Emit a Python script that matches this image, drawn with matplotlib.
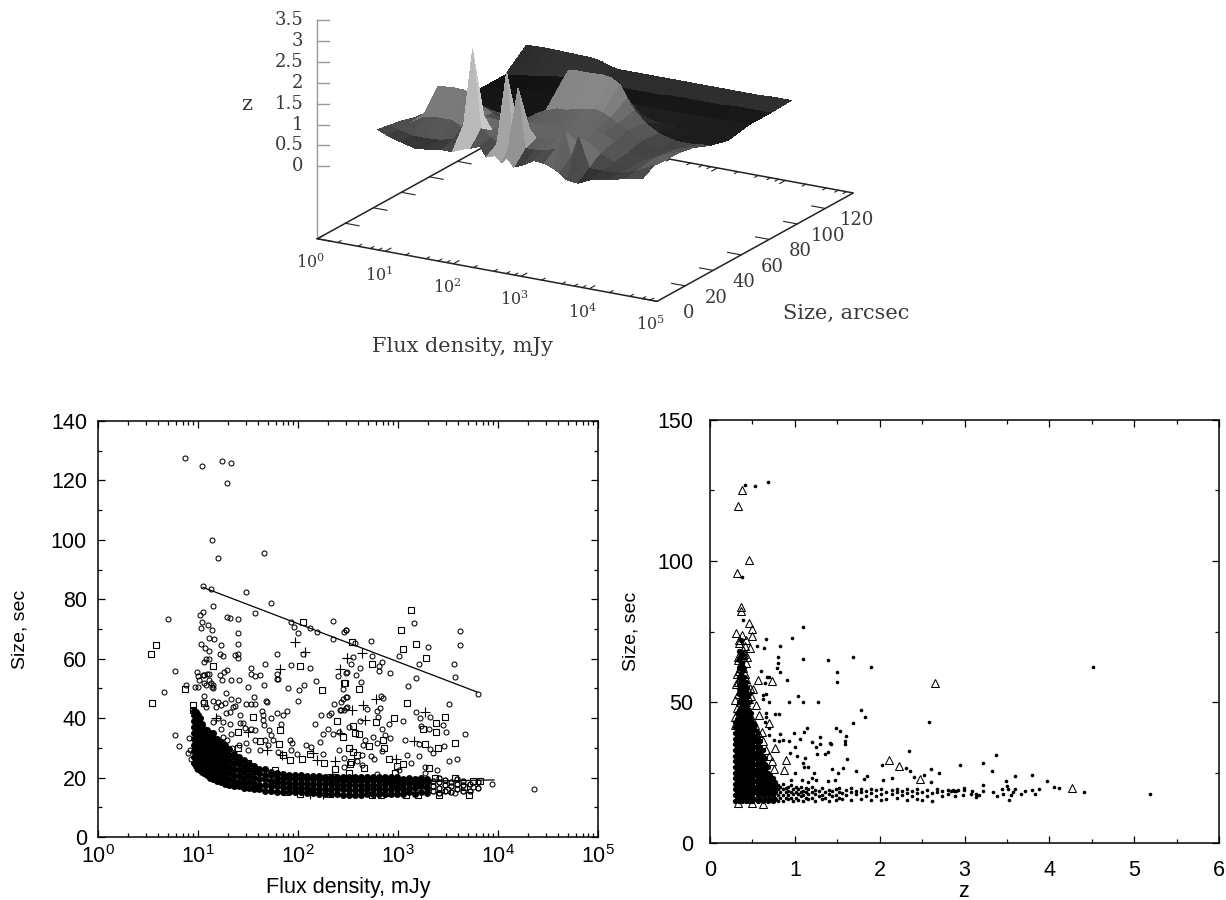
import numpy as np
import matplotlib
matplotlib.use("Agg")
import matplotlib.pyplot as plt
from mpl_toolkits.mplot3d import proj3d

W, H = 1226, 900
SANS = "Liberation Sans"
SERIF = "DejaVu Serif"
plt.rcParams["font.family"] = SANS

###############################################################
# top panel: z(log flux, size)
###############################################################
surf_logflux = [.6, .75, .95, 1.15, 1.35, 1.55, 1.7, 1.83, 1.95, 2.1, 2.2, 2.33, 2.42, 2.5, 2.6, 2.75,
                2.9, 3.05, 3.18, 3.28, 3.39, 3.55, 3.75, 4.0, 4.25, 4.5]
surf_size = [14, 22, 30, 40, 50, 62, 75, 90, 105, 120]
surf_z = [
    [.80, .70, .60, .52, .55, .60, .60, .70, .75, .85, .62, .70, .55, .70, .50, .60, .75, .72, .65, .55, .42, .40, .55, .62, .72, .80],
    [.75, .68, .60, .60, .62, .70, 1.1, 2.94, 1.1, .90, .80, 2.54, .90, 2.22, .80, .80, .85, .90, 1.4, .80, 1.3, .60, .60, .62, .75, .96],
    [.70, .70, .90, .95, .95, .80, .80, 1.2, .90, .90, .85, 1.1, .90, 1.1, .90, .90, .95, 1.0, 1.0, 1.0, 1.0, .80, .65, .60, .80, .94],
    [.60, .75, 1.45, 1.5, 1.48, .85, .80, .90, .85, .95, 1.0, 1.0, 1.0, 1.0, 1.0, 1.05, 1.1, 1.15, 1.15, 1.1, 1.05, .90, .70, .60, .80, .94],
    [.50, .60, 1.0, 1.0, .95, .80, .70, .70, .70, .80, 1.0, 1.1, 1.15, 1.2, 1.2, 1.25, 1.3, 1.35, 1.3, 1.2, 1.1, 1.0, .80, .65, .75, .87],
    [.45, .50, .55, .55, .55, .55, .50, .50, .55, .60, .90, 1.6, 1.88, 1.9, 1.9, 1.9, 1.92, 1.88, 1.75, 1.45, 1.2, .95, .75, .65, .65, .70],
    [.42, .45, .45, .45, .45, .45, .45, .50, .50, .50, .60, .70, .72, .72, .72, .72, .72, .72, .72, .70, .70, .70, .68, .65, .62, .58],
    [.42, .45, .45, .48, .50, .50, .50, .55, .55, .55, .60, .62, .62, .62, .62, .65, .65, .65, .65, .65, .65, .65, .65, .65, .68, .68],
    [.42, .45, .50, .55, .60, .62, .65, .65, .62, .60, .62, .62, .62, .62, .62, .62, .62, .65, .65, .65, .65, .65, .65, .68, .68, .68],
    [.85, .87, .87, .86, .85, .84, .80, .72, .68, .68, .68, .68, .68, .68, .68, .68, .68, .68, .68, .68, .68, .68, .68, .68, .70, .70],
]
row_gray = [85, 100, 100, 90, 90, 40, 40, 32, 62, 62]

z_ticks = [0, .5, 1, 1.5, 2, 2.5, 3, 3.5]
z_ticklabels = ["0", "0.5", "1", "1.5", "2", "2.5", "3", "3.5"]
flux_decades = [0, 1, 2, 3, 4, 5]
flux_minor = [.3, .6, .78, .9]
size_ticks = [0, 20, 40, 60, 80, 100, 120]

###############################################################
# left panel (log10 flux, size)
###############################################################
circles = [
    (.87, 127.4), (1.04, 124.8), (1.24, 126.4), (1.33, 126), (1.29, 119), (1.14, 99.8), (1.2, 93.9), (1.66, 95.6),
    (1.05, 84.4), (1.13, 83.6), (1.48, 82.3), (1.73, 78.6), (1.15, 77.6), (.7, 73.3), (1.02, 74.6), (1.05, 75.6),
    (1.57, 75.4), (1.29, 74.1), (1.32, 73.6), (1.4, 73.4), (1.04, 72.4), (1.03, 70.4), (1.1, 71.2), (1.14, 69.8),
    (1.4, 68.8), (1.93, 72.2), (1.96, 70.6), (2.12, 70.3), (2, 68.5), (2.19, 69.1), (2.35, 72.8), (2.48, 69.6),
    (2.46, 69), (2.35, 66.8), (1.11, 67.1), (1.16, 66.7), (1.03, 64.8), (1.23, 64.6), (1.4, 64.9), (1.07, 63.6),
    (1.11, 62.6), (1.22, 61.7), (1.25, 60.9), (1.37, 61.2), (1.4, 61.7), (1.4, 60.3), (1.79, 61.7), (2.05, 61.5),
    (1.08, 60), (1.11, 60), (1.06, 58.9), (1.67, 58.1), (1.93, 57.8), (2.12, 57), (.77, 55.8), (.66, 48.7), (.88, 51),
    (.97, 50.6), (1, 50.5), (.99, 55.6), (1.0, 54.1), (1.01, 53), (1.05, 54.6), (1.06, 54.5), (1.09, 54.8), (1.11, 55),
    (1.06, 51.7), (1.08, 51.1), (1.11, 52.8), (1.13, 51.7), (1.14, 50.5), (1.15, 51.1), (1.15, 50), (1.06, 47.5),
    (1.05, 45.5), (1.08, 43.8), (1.15, 45.8), (1.2, 45.5), (1.27, 45.2), (1.33, 46.3), (1.4, 46), (1.48, 44.9),
    (1.53, 44.7), (1.57, 44.6), (1.56, 47), (1.68, 45.7), (1.69, 45.5), (1.28, 48.6), (1.22, 54.5), (1.26, 55.4),
    (1.29, 56.2), (1.24, 53), (1.33, 52.8), (1.41, 52.8), (1.5, 50.5), (1.53, 57), (1.53, 55), (1.57, 54.1),
    (1.62, 54.5), (1.66, 51.1), (1.79, 55), (1.79, 53.3), (1.8, 53.1), (1.9, 50.2), (2.01, 49.4), (2, 45.9),
    (2.06, 51.1), (2.18, 52.4), (2.4, 54.1), (2.49, 55.4), (1.79, 41.6), (1.89, 42.5), (1.85, 41.2), (1.64, 42.5),
    (1.65, 41), (1.73, 39.9), (1.42, 40.9), (1.35, 43.8), (1.37, 44.1), (1.32, 42.1), (1.28, 41.6), (1.23, 44.4),
    (1.18, 43.8), (1.15, 38.8), (1.2, 40.1), (1.25, 38.8), (1.32, 38), (1.23, 36.5), (1.33, 34.8), (1.42, 38.2),
    (1.45, 38.4), (1.47, 36.8), (1.53, 36.5), (1.57, 36), (1.65, 39.3), (1.66, 37.6), (1.71, 36), (1.83, 38),
    (1.73, 34.3), (1.75, 32.6), (1.67, 32.8), (1.57, 32.6), (1.48, 31.5), (1.41, 30.9), (1.34, 29.8), (1.29, 32.6),
    (1.25, 33.7), (1.5, 29.2), (1.62, 29.2), (1.7, 30.9), (1.8, 28.7), (1.92, 32.6), (1.94, 31.7), (1.93, 29.2),
    (2.08, 30.9), (2.13, 30.3), (1.99, 27.8), (2.22, 32), (2.25, 34.8), (2.3, 36.5), (2.33, 41.8), (2.31, 41),
    (2.23, 41), (2.17, 37.9), (2.36, 44.9), (2.43, 45.5), (2.49, 47.2), (2.46, 42.7), (2.42, 42.7), (2.49, 43.6),
    (2.35, 34.8), (2.41, 35.4), (2.51, 37), (2.41, 29.2), (2.25, 28.1), (.77, 34.3), (.81, 30.7), (.91, 33.4),
    (.9, 28.3), (.92, 29.2), (.93, 26.1), (.97, 24.7), (.99, 23),
    (2.48, 69.6), (3.16, 71.9), (3.62, 69.2), (3.62, 64.6), (3.3, 63.8), (2.73, 65.9), (2.57, 65.4), (3.01, 60.9),
    (3.21, 58.2), (3.56, 58.1), (3.57, 53.7), (3.18, 53.4), (3.1, 50.8), (3.8, 48.1), (3.51, 44.8), (3.18, 41.9),
    (2.55, 60.7), (2.74, 60.8), (2.84, 59), (2.81, 57.7), (2.81, 56), (2.92, 55.2), (2.53, 58.2), (2.62, 57),
    (2.48, 55.3), (2.58, 54.5), (2.63, 52.2), (2.45, 49.9), (2.48, 47.2), (2.45, 46.4), (2.83, 47.4), (2.85, 46.7),
    (2.79, 42.5), (2.82, 43.4), (2.69, 43), (2.48, 43.5), (2.43, 42.7), (2.8, 40.5), (2.91, 37.9), (3.05, 38.9),
    (2.62, 38.9), (2.87, 34.3), (2.84, 36.4), (2.75, 33.7), (2.67, 32.6), (2.92, 33.2), (2.65, 30.9), (2.79, 31.8),
    (2.84, 28.8), (2.73, 27.3), (2.64, 27.6), (2.76, 26.1), (2.46, 26.7), (2.59, 25.7), (2.64, 24.2), (2.46, 23.6),
    (2.79, 21.2), (3.01, 22.5), (3.22, 40.1), (3.32, 40.5), (3.45, 37.7), (3.48, 35.2), (3.67, 34.5), (3.23, 37.3),
    (3.31, 36.3), (3.07, 32.7), (3.21, 31.4), (3.32, 29.7), (3.46, 30.5), (3.35, 28.2), (3.21, 27.1), (3.09, 27.7),
    (3.51, 25.7), (3.59, 26.2), (3.13, 24.9), (3.39, 22.7), (3.27, 23.4), (3.27, 21.4), (3.94, 17.8), (4.36, 16.1),
    (3.57, 14.7), (3.75, 16.9),
]
squares = [
    (.58, 64.5), (.53, 61.5), (.54, 45.2), (.87, 49.8), (1.06, 45.2), (1.15, 57.4), (2.05, 72.2), (2.02, 57.5),
    (2.24, 49.6), (2.47, 51.9), (1.55, 40.3), (2.39, 39.1), (1.82, 36), (1.4, 35.4), (1.62, 32.3), (1.81, 31.2),
    (1.4, 30), (2.51, 29.8), (2.45, 33.5), (1.85, 27.5), (1.92, 25.9), (2.12, 27.8), (2.04, 26.4), (2.26, 25),
    (1.77, 22.5), (1.5, 25), (2.37, 23), (2.52, 24.7), (.95, 42.7), (.95, 44.4), (1.87, 15.2), (2.02, 14.6),
    (2.32, 14.4), (1.08, 21.4), (3.13, 76.4), (3.03, 69.5), (3.18, 64.9), (3.05, 63.4), (3.28, 60.1), (2.54, 65.5),
    (2.74, 58.2), (2.46, 51.9), (2.61, 49.9), (3.09, 45.2), (2.96, 40.2), (2.78, 38.8), (3.47, 40.4), (3.38, 38.2),
    (3.38, 35.3), (3.25, 36.3), (3.27, 31.2), (3.4, 30.1), (3.57, 31.7), (2.85, 32.6), (2.86, 29.8), (2.71, 30.5),
    (2.57, 34.9), (2.61, 34.7), (2.55, 37.4), (2.51, 30), (2.55, 28.6), (2.59, 27.6), (2.91, 26.4), (2.99, 24),
    (3.05, 24.4), (2.53, 25.1), (2.66, 23.1), (2.51, 21.6), (2.97, 21.4), (3.31, 23.1), (3.57, 20), (3.75, 19),
    (3.82, 18.7), (3.71, 14), (3.2, 14), (2.74, 14), (2.83, 14.2), (3.08, 14.2), (3.41, 14.2), (3.66, 16.9),
    (3.49, 15.8), (3.37, 19.7), (3.19, 19.1), (2.89, 14.7), (2.99, 18), (2.62, 14.7),
]
pluses = [
    (1.97, 65.6), (2.07, 62.2), (2.49, 60.3), (2.42, 56.7), (1.82, 56.5), (1.69, 29.4), (1.84, 27.7), (2.15, 28.4),
    (2.19, 26), (2.37, 25.6), (2.34, 21.1), (2.12, 14.4), (2.25, 14.6), (1.18, 39.9), (1.5, 35.4), (2.49, 60.2),
    (2.64, 61.9), (2.78, 46.6), (2.65, 44.4), (2.54, 42.6), (2.67, 39.3), (3.27, 42.1), (3.16, 32.3), (2.98, 26.2),
    (2.42, 34.9),
]
# the black band: sizes read column by column
band_logflux = [.96, .98, 1.0, 1.02, 1.04, 1.06, 1.09, 1.12, 1.15, 1.19, 1.23, 1.27, 1.31, 1.36, 1.41, 1.46, 1.51,
                1.56, 1.61, 1.67, 1.73, 1.79, 1.85, 1.91, 1.97, 2.03, 2.09, 2.15, 2.21, 2.27, 2.33, 2.39, 2.45,
                2.51, 2.57, 2.63, 2.69, 2.75, 2.81, 2.87, 2.93, 2.99, 3.05, 3.11, 3.17, 3.23, 3.29, 3.35, 3.41,
                3.47, 3.53, 3.59, 3.65, 3.72, 3.8]
band_sizes = [
    [25, 27, 29, 31, 33, 35, 37, 39, 41, 42.5], [24, 26, 28, 30, 32, 34, 36, 38, 40, 42], [23, 25, 27, 29, 31, 33, 35, 37, 39, 41],
    [22.5, 24.5, 26.5, 28.5, 30.5, 32.5, 34.5, 36.5, 38.5, 40], [22, 24, 26, 28, 30, 32, 34, 36, 38], [21.5, 23.5, 25.5, 27.5, 29.5, 31.5, 33.5, 35.5, 36.5],
    [21, 23, 25, 27, 29, 31, 33, 35, 36], [20, 22, 24, 26, 28, 30, 32, 34, 35], [19.5, 21.5, 23.5, 25.5, 27.5, 29.5, 31.5, 33.5, 35],
    [19, 21, 23, 25, 27, 29, 31, 33], [18.5, 20.5, 22.5, 24.5, 26.5, 28.5, 30.5, 32], [18, 20, 22, 24, 26, 28, 30, 31],
    [17.5, 19.5, 21.5, 23.5, 25.5, 27.5, 29.5], [17, 19, 21, 23, 25, 27, 28], [17, 18.5, 20.5, 22.5, 24.5, 26, 27], [16.5, 18, 20, 22, 24, 26],
    [16.5, 18.5, 20.5, 22.5, 24.5], [16, 18, 20, 22, 24], [16, 17.5, 19.5, 21.5, 23], [15.5, 17.5, 19.5, 21, 23], [15.5, 17, 19, 21, 22],
    [15.3, 17, 18.5, 20, 21.5], [15.2, 16.8, 18.4, 20, 21.3], [15.2, 16.7, 18.3, 19.8, 21], [15, 16.5, 18, 19.5, 21], [15, 16.6, 18.2, 19.7, 20.8],
    [14.8, 16.4, 18, 19.6, 20.6], [14.7, 16.3, 17.9, 19.5, 20.5], [14.6, 16.2, 17.8, 19.4, 20.5], [14.6, 16.2, 17.8, 19.4, 20.3], [14.5, 16.1, 17.7, 19.3, 20.3],
    [14.4, 16, 17.6, 19.2, 20.3], [14.3, 16, 17.6, 19.2, 20.2], [14.3, 15.9, 17.5, 19.1, 20.2], [14.3, 15.9, 17.5, 19.1, 20.2], [14.3, 15.9, 17.5, 19.1, 20.2],
    [14.4, 16, 17.6, 19.2, 20.2], [14.4, 16, 17.6, 19.2, 20.2], [14.5, 16, 17.6, 19.2, 20.2], [14.5, 16.1, 17.7, 19.3, 20.2], [14.5, 16.1, 17.7, 19.3, 20.2],
    [14.5, 16, 17.6, 19.2, 20.2], [14.6, 16.2, 17.8, 19.4], [15, 16.6, 18.2, 19.8], [14.5, 16.4, 18, 19.6], [15, 17, 18.6, 20], [14.8, 16.6, 18.2, 19.6],
    [15.5, 17.2, 18.8], [14.8, 16.5, 18.4, 19.8], [15.5, 17.5, 19.2], [15, 17, 18.5], [16, 18, 19.5], [15.5, 17.5, 18.8], [15.5, 17.8], [16.5, 18.4],
]
line_top_logflux = [1.05, 3.79]
line_top_size = [84, 48.8]
line_low_logflux = [1.7, 3.96]
line_low_size = [17.8, 19.2]

###############################################################
# right panel (z, size)
###############################################################
triangles = [
    (.38, 125.2), (.334, 119.5), (.456, 100.2), (.318, 95.9), (.362, 83.8), (.37, 82.4), (.456, 77.9), (.5, 75.8),
    (.307, 74.4), (.49, 73.5), (.38, 73.8), (.43, 72), (.346, 70.8), (.47, 69), (.39, 68.5), (.39, 66.7), (.43, 63.7),
    (.335, 65), (.35, 62), (.39, 62), (.354, 59), (.57, 57.8), (.735, 57.6), (.307, 56.4), (.37, 55.5), (.51, 54.5),
    (.295, 50.7), (.54, 49), (.58, 45.5), (.295, 44.8), (.70, 42.6), (.61, 39.5), (.77, 33.6), (.89, 29.4), (.73, 29.2),
    (.755, 26.2), (.877, 25.9), (2.11, 29.4), (2.225, 27.3), (2.476, 22.7), (2.657, 56.6), (.63, 14), (.33, 14.3),
    (.49, 14.3), (4.27, 19.5), (.33, 66), (.36, 67), (.41, 70), (.32, 60), (.36, 56), (.42, 58), (.33, 53), (.38, 52),
    (.44, 55), (.48, 52), (.32, 48), (.4, 49), (.36, 47), (.45, 47), (.3, 42), (.5, 44),
    (.34, 72), (.4, 67), (.44, 66), (.37, 64), (.34, 61), (.41, 60), (.37, 58), (.33, 57), (.4, 55), (.35, 54), (.42, 53),
    (.46, 51), (.35, 50), (.42, 50), (.38, 48), (.47, 55), (.34, 45), (.42, 45), (.37, 43), (.47, 41), (.53, 42), (.56, 39),
    (.62, 36), (.66, 33), (.7, 31),
]
dots = [
    (.417, 127), (.535, 126.7), (.688, 128), (.38, 94.4), (.393, 79), (1.10, 76.7), (.963, 72.6), (.66, 72.2), (.825, 69.9),
    (.558, 70), (.633, 69.1), (.806, 65.8), (1.093, 65.2), (1.39, 65), (1.69, 66), (1.9, 62.3), (.8, 63.7), (.79, 62),
    (.82, 60.5), (1.5, 60.5), (.6, 61), (.91, 57.8), (1.5, 57), (.67, 59), (.7, 58.8), (.65, 56.6), (.62, 52.5), (.66, 53),
    (.63, 51), (.69, 50), (.935, 50), (1.04, 52.2), (1.1, 50), (1.27, 50), (1.777, 47), (1.83, 44.6), (1.68, 42.4),
    (2.586, 42.9), (.77, 45.6), (.81, 45.6), (.66, 46.2), (.66, 44.6), (.65, 43), (.7, 40.7), (.7, 38.3), (.82, 38.5),
    (1.148, 40.7), (1.11, 39.5), (.995, 39), (1.48, 40.7), (1.537, 39.8), (1.6, 38), (1.06, 36.9), (.93, 36.3), (.81, 36),
    (.86, 36.5), (.75, 36.5), (1.2, 35.7), (1.3, 37.7), (1.3, 35), (1.25, 34), (1.42, 35.6), (1.43, 35), (1.59, 36),
    (1.59, 35), (1, 34), (.943, 31.8), (1.265, 31.6), (1.35, 31.6), (1.39, 32.2), (1.03, 30.9), (1.12, 30.1), (1.61, 29.7),
    (2.35, 32.6), (2.03, 27.7), (1.435, 26.2), (1.51, 24.7), (1.57, 26.5), (1.72, 25.7), (2.31, 26.5), (2.36, 25.7),
    (2.61, 26.1), (2.7, 24.8), (2.95, 27.7), (2.41, 23.5), (2.52, 24), (1.85, 23.8), (1.81, 22.6), (2.04, 22.2), (2.15, 23),
    (2.61, 21.5), (1.23, 24.7), (1.2, 23), (1.15, 26.8), (1.11, 26.8), (1.1, 28.2), (1, 24.7), (1.08, 22.5), (.95, 22.3),
    (1.39, 22), (1.47, 22.5), (1.15, 21.7), (1.25, 22.2),
    (4.516, 62.3), (3.377, 31.3), (3.215, 28.5), (3.32, 25.6), (3.59, 23.8), (3.79, 24), (3.49, 21.9), (3.97, 22.1),
    (3.22, 20.7), (4.05, 19.8), (4.11, 19.5), (3.5, 20.2), (3.51, 19), (3.44, 19), (3.34, 18.2), (3.22, 18.6), (3.09, 18.6),
    (2.99, 19.5), (2.99, 18.7), (3.6, 19), (3.71, 18.3), (3.79, 18.9), (3.88, 19), (3.67, 17.3), (3.83, 17.5), (3.57, 18),
    (3.45, 17.3), (3.38, 16.7), (3.55, 16.9), (3.53, 15.4), (3.17, 16.9), (3.14, 17.2), (3.13, 16.2), (3.08, 17.3),
    (2.98, 17), (2.89, 16.7), (4.414, 18.2), (5.19, 17.4), (2.84, 18.5), (2.86, 18.7), (2.88, 18.3), (2.9, 18.6), (2.92, 18.8),
]
core_z = [.3, .32, .34, .36, .38, .40, .42, .44, .46, .48, .50, .53, .56, .59, .62, .65, .68, .71, .74, .77]
core_sizes = [
    [15, 17, 19, 21, 23, 25, 27, 29, 31, 33, 35, 37, 39, 41, 43], [15.5, 18, 20, 22, 24, 26, 28, 30, 32, 34, 36, 38, 40, 42, 44, 46],
    [15, 17, 19, 21, 23, 25, 27, 29, 31, 33, 35, 37, 39, 41, 43, 45, 47, 50, 53, 56, 59, 62, 65, 68],
    [15.5, 18, 20, 22, 24, 26, 28, 30, 32, 34, 36, 38, 40, 42, 44, 46, 48, 51, 54, 57, 60, 63, 66, 72],
    [15, 17, 19, 21, 23, 25, 27, 29, 31, 33, 35, 37, 39, 41, 43, 45, 47, 49, 52, 55, 58, 61, 64, 67],
    [15.5, 18, 20, 22, 24, 26, 28, 30, 32, 34, 36, 38, 40, 42, 44, 46, 48, 50, 53, 56, 59, 62],
    [15, 17, 19, 21, 23, 25, 27, 29, 31, 33, 35, 37, 39, 41, 43, 45, 47, 49, 51, 54, 57],
    [15.5, 18, 20, 22, 24, 26, 28, 30, 32, 34, 36, 38, 40, 42, 44, 46, 48, 52, 55],
    [15, 17, 19, 21, 23, 25, 27, 29, 31, 33, 35, 37, 39, 41, 43, 45, 47, 50, 53],
    [15.5, 18, 20, 22, 24, 26, 28, 30, 32, 34, 36, 38, 40, 42, 44, 46], [15, 17, 19, 21, 23, 25, 27, 29, 31, 33, 35, 37, 39, 41, 43],
    [15.5, 18, 20, 22, 24, 26, 28, 30, 32, 34, 36, 38, 40, 42], [15, 17, 19, 21, 23, 25, 27, 29, 31, 33, 35, 37, 39],
    [15.5, 18, 20, 22, 24, 26, 28, 30, 32, 34, 36], [15, 17, 19, 21, 23, 25, 27, 29, 31, 33], [15.5, 18, 20, 22, 24, 26, 28, 30],
    [15, 17, 19, 21, 23, 25, 27], [15.5, 18, 20, 22, 24], [15, 17, 19, 21, 23], [15.5, 18, 20, 21.5],
]
tail_z = [.8, .83, .86, .89, .92, .95, .98, 1.01, 1.04, 1.07, 1.1, 1.13, 1.16, 1.2, 1.24, 1.28, 1.32, 1.36, 1.4, 1.44, 1.48,
          1.52, 1.56, 1.6, 1.66, 1.72, 1.78, 1.84, 1.9, 1.96, 2.02, 2.08, 2.14, 2.2, 2.26, 2.32, 2.38, 2.44, 2.5, 2.56, 2.62,
          2.68, 2.74, 2.8]
tail_sizes = [
    [15, 17, 19, 20.5], [16, 18, 20], [15, 17, 19, 21], [16, 18, 19.5], [15.5, 17, 18.5, 20], [16, 18, 20.5], [15, 17.5, 19], [16, 18, 20],
    [15.3, 17.4, 19], [16.5, 18, 20], [15, 17, 18.6], [16, 18, 19.5], [15.5, 17.5, 19], [16, 18, 20], [15, 17.5, 18.8], [16.5, 18.5],
    [15.5, 17, 19.5], [16, 18.2], [15, 17.5, 18.8], [16.5, 18.6], [15.3, 17, 19], [16, 18.2, 19.5], [15.5, 17.6], [17, 18.8], [15.2, 18, 19.5],
    [17.2, 18.6], [15.5, 18, 19.2], [16.8, 18.5], [15.2, 17.6, 19], [16.6, 18.7], [15.4, 17.5, 19.3], [15.6, 18.2], [17.2, 18.9], [15.8, 18, 19],
    [17.1, 18.6], [15.3, 17.8, 19.3], [16.5, 18.4], [15.6, 17.6, 19], [15.3, 18.1], [16.8, 18.7], [15, 17.8], [18.2, 19.1], [16.7, 18.5], [17.3, 18.9],
]

###############################################################
# figure
###############################################################
fig = plt.figure(figsize=(W / 100, H / 100), dpi=100)


def px_axes(x0, y0, x1, y1, **kw):
    return fig.add_axes([x0 / W, 1 - y1 / H, (x1 - x0) / W, (y1 - y0) / H], **kw)


def flatten(xs, yss):
    x = [a for a, ys in zip(xs, yss) for _ in ys]
    y = [b for ys in yss for b in ys]
    return np.array(x), np.array(y)


###############################################################
# top 3d surface
###############################################################
Z_BASE = -1.74
TXT = "#3a3a3a"
# square box, the 3d axes keep their own square inside whatever they get
ax3 = px_axes(174.5, -282.5, 974.5, 517.5, projection="3d")
ax3.set_proj_type("ortho")
ax3.view_init(elev=18.6, azim=-60)
ax3.set_xlim(0, 5)
ax3.set_ylim(0, 140)
ax3.set_zlim(Z_BASE, 3.5)
ax3.set_box_aspect((390, 390, 229), zoom=.729)
ax3.set_axis_off()
ax3.patch.set_alpha(0)
ax3.apply_aspect()
proj = ax3.get_proj()


def label3d(x, y, z, s, ha="center", **kw):
    u, v, _ = proj3d.proj_transform(x, y, z, proj)
    ax3.text2D(u, v, s, transform=ax3.transData, family=SERIF, color=TXT, ha=ha, va="center", **kw)


X, Y = np.meshgrid(surf_logflux, surf_size)
Zs = np.array(surf_z)
grays = np.zeros(Zs.shape + (4,))
for i in range(Zs.shape[0]):
    for j in range(Zs.shape[1]):
        zc = Zs[i:i + 2, j:j + 2].max()
        dim = .55 + .45 * np.clip((Zs[i:i + 2, j:j + 2].mean() - .5) / .4, 0, 1)
        g = np.clip(row_gray[i] * dim + 55 * max(zc - 1.1, 0), 0, 225) / 255
        grays[i, j] = (g, g, g, 1)
ax3.plot_surface(X, Y, Zs, facecolors=grays, rstride=1, cstride=1, shade=False,
                 linewidth=0, antialiased=False)

c3 = "#222222"
ax3.plot([0, 5, 5, 0, 0], [0, 0, 140, 140, 0], [Z_BASE] * 5, color=c3, lw=1.1, zorder=0)
ax3.plot([0, 0], [0, 0], [Z_BASE, 3.5], color="#999999", lw=1.0)
for v, lab in zip(z_ticks, z_ticklabels):
    ax3.plot([0, .133], [0, 2.15], [v, v], color="#999999", lw=1.0)
    label3d(-.156, -2.5, v, lab, ha="right", fontsize=13)
for d in flux_decades:
    label3d(d + .40, -24, Z_BASE, r"$\mathdefault{10^{%d}}$" % d, fontsize=11.5)
    if d < 5:
        for yy, dy in ((0, 4), (140, -4)):
            ax3.plot([d, d], [yy, yy + dy], [Z_BASE, Z_BASE], color=c3, lw=.8)
            for m in flux_minor:
                ax3.plot([d + m, d + m], [yy, yy + dy * .6], [Z_BASE, Z_BASE], color=c3, lw=.8)
for s in size_ticks:
    ax3.plot([5, 4.8], [s, s], [Z_BASE, Z_BASE], color=c3, lw=.8)
    ax3.plot([0, .2], [s, s], [Z_BASE, Z_BASE], color=c3, lw=.8)
    label3d(5.46, s, Z_BASE - .15, str(s), fontsize=13)

fig.text(247 / W, 1 - 104 / H, "z", family=SERIF, fontsize=15, color=TXT, ha="center", va="center")
fig.text(463 / W, 1 - 347 / H, "Flux density, mJy", family=SERIF, fontsize=15, color=TXT, ha="center", va="center")
fig.text(846 / W, 1 - 313 / H, "Size, arcsec", family=SERIF, fontsize=15, color=TXT, ha="center", va="center")

###############################################################
# left scatter
###############################################################
ax1 = px_axes(98, 421, 598, 837)
cx, cy = np.array(circles).T
bx, by = flatten(band_logflux, band_sizes)
sx, sy = np.array(squares).T
px, py = np.array(pluses).T
solid = bx < 3.35
ax1.plot(10 ** bx[solid], by[solid], "o", ms=5.0, mfc="k", mec="k", mew=0)
ax1.plot(10 ** bx[~solid], by[~solid], "o", ms=3.6, mfc="none", mec="k", mew=1.0)
ax1.plot(10 ** cx, cy, "o", ms=3.6, mfc="none", mec="k", mew=.75)
ax1.plot(10 ** sx, sy, "s", ms=5, mfc="none", mec="k", mew=.8)
ax1.plot(10 ** px, py, "+", ms=7, color="k", mew=.8)
ax1.plot(10 ** np.array(line_top_logflux), line_top_size, color="k", lw=.9)
ax1.plot(10 ** np.array(line_low_logflux), line_low_size, color="k", lw=.9)
ax1.set_xscale("log")
ax1.set_xlim(1, 1e5)
ax1.set_ylim(0, 140)
ax1.set_yticks(range(0, 141, 20))
ax1.set_yticks(range(0, 141, 10), minor=True)
ax1.set_xlabel("Flux density, mJy", fontsize=15.5)
ax1.set_ylabel("Size, sec", fontsize=14)
ax1.xaxis.set_label_coords(.5, (837 - 877) / 416)
ax1.yaxis.set_label_coords((29 - 98) / 500, .5)

###############################################################
# right scatter
###############################################################
ax2 = px_axes(710, 420, 1219, 843)
dx, dy = np.array(dots).T
kx, ky = flatten(core_z, core_sizes)
tx, ty = flatten(tail_z, tail_sizes)
ax2.plot(np.concatenate([dx, tx]), np.concatenate([dy, ty]), "o", ms=2.6, mfc="k", mec="k", mew=0)
ax2.plot(kx, ky, "o", ms=3.8, mfc="k", mec="k", mew=0)
tri_x, tri_y = np.array(triangles).T
ax2.plot(tri_x, tri_y, "^", ms=6.2, mfc="none", mec="k", mew=.75)
ax2.set_xlim(0, 6)
ax2.set_ylim(0, 150)
ax2.set_xticks(range(0, 7))
ax2.set_xticks(np.arange(0, 6.1, .5), minor=True)
ax2.set_yticks([0, 50, 100, 150])
ax2.set_yticks(range(0, 151, 25), minor=True)
ax2.set_xlabel("z", fontsize=15.5)
ax2.set_ylabel("Size, sec", fontsize=14)
ax2.xaxis.set_label_coords(.499, (843 - 881) / 423)
ax2.yaxis.set_label_coords((640 - 710) / 509, .5)

for ax, padx, pady in ((ax1, 6, 8), (ax2, 12, 12)):
    ax.tick_params(which="both", direction="in", top=True, right=True, width=.9, labelsize=15.5)
    ax.tick_params(axis="x", which="both", pad=padx)
    ax.tick_params(axis="y", which="both", pad=pady)
    ax.tick_params(which="major", length=5)
    ax.tick_params(which="minor", length=3)
    for sp in ax.spines.values():
        sp.set_linewidth(1.1)

fig.savefig("out.png", dpi=100)
